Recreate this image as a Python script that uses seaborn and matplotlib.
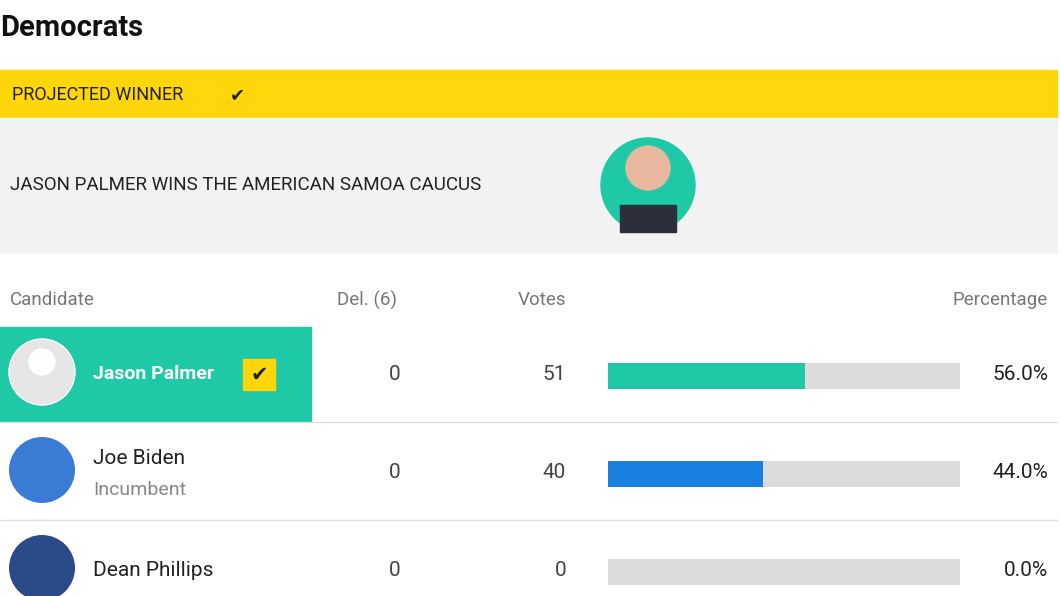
import matplotlib
matplotlib.use("Agg")
import matplotlib.pyplot as plt
import seaborn as sns
import pandas as pd
from matplotlib.patches import Rectangle, Circle

sns.set_theme(style="white")
plt.rcParams['font.family'] = ['Roboto', 'DejaVu Sans']

candidates = ["Jason Palmer", "Joe Biden", "Dean Phillips"]
subtitles = ["", "Incumbent", ""]
delegates = [0, 0, 0]
votes = [51, 40, 0]
percentages = [56.0, 44.0, 0.0]
bar_colors = ["#1fc9a6", "#1a80e0", "#1a80e0"]

W, H = 1060, 596
fig = plt.figure(figsize=(W/100, H/100), dpi=100)
bg = fig.add_axes([0, 0, 1, 1])
bg.set_xlim(0, W); bg.set_ylim(H, 0); bg.axis("off")

bg.text(0, 28, "Democrats", fontsize=21, fontweight="bold", va="center", color="#111")
bg.add_patch(Rectangle((0, 70), 1057, 48, color="#ffd60a"))
bg.text(12, 95, "PROJECTED WINNER", fontsize=13, va="center", color="#222")
bg.text(230, 95, "\u2714", fontsize=13, va="center", color="#222", family="DejaVu Sans")
bg.add_patch(Rectangle((0, 118), 1057, 134, color="#f2f2f2"))
bg.text(10, 185, "JASON PALMER WINS THE AMERICAN SAMOA CAUCUS", fontsize=13.5, va="center", color="#222")
bg.add_patch(Circle((648, 185), 47, color="#1fc9a6"))
bg.add_patch(Circle((648, 168), 22, color="#e8b9a0"))
bg.add_patch(Rectangle((620, 205), 56, 27, color="#2a2f3a"))

hc = "#777777"
bg.text(10, 300, "Candidate", fontsize=13.5, va="center", color=hc)
bg.text(367, 300, "Del. (6)", fontsize=13.5, va="center", ha="center", color=hc)
bg.text(566, 300, "Votes", fontsize=13.5, va="center", ha="right", color=hc)
bg.text(1048, 300, "Percentage", fontsize=13.5, va="center", ha="right", color=hc)

rows_y = [374, 472, 570]
bg.add_patch(Rectangle((0, 327), 311, 94, color="#1fc9a6"))
for y in [422, 520]:
    bg.plot([0, 1057], [y, y], color="#dddddd", lw=1)
avatar_cols = ["#e6e6e6", "#3a7bd5", "#2b4a8a"]
for i, y in enumerate(rows_y):
    bg.add_patch(Circle((42, y - 2), 33, color=avatar_cols[i], ec="white" if i == 0 else "none"))
    if i == 0:
        bg.add_patch(Circle((42, y - 12), 13, color="white"))
        bg.text(93, y, candidates[i], fontsize=14, fontweight="bold", va="center", color="white")
        bg.add_patch(Rectangle((243, 359), 32, 31, color="#ffd60a"))
        bg.text(259, 375, "\u2714", fontsize=15, ha="center", va="center", color="#222", family="DejaVu Sans")
    else:
        ny = y - 14 if subtitles[i] else y
        bg.text(93, ny, candidates[i], fontsize=15, va="center", color="#222")
        if subtitles[i]:
            bg.text(93, y + 18, subtitles[i], fontsize=14, va="center", color="#888")
    bg.text(395, y, str(delegates[i]), fontsize=15, va="center", ha="center", color="#444")
    bg.text(566, y, str(votes[i]), fontsize=15, va="center", ha="right", color="#444")
    bg.text(1048, y, f"{percentages[i]:.1f}%", fontsize=15, va="center", ha="right", color="#222")

top, bottom = 327, 621
ax = fig.add_axes([608/W, (H - bottom)/H, 352/W, (bottom - top)/H])
df = pd.DataFrame({"cand": candidates, "pct": percentages, "full": [100]*3})
sns.barplot(data=df, x="full", y="cand", color="#dcdcdc", saturation=1, width=0.27, linewidth=0, ax=ax)
sns.barplot(data=df, x="pct", y="cand", hue="cand", palette=bar_colors, saturation=1,
            width=0.27, linewidth=0, ax=ax, legend=False)
ax.set_xlim(0, 100)
ax.set_ylim(2.5, -0.5)
ax.axis("off")
ax.patch.set_alpha(0)

fig.savefig("out.png", dpi=100)
